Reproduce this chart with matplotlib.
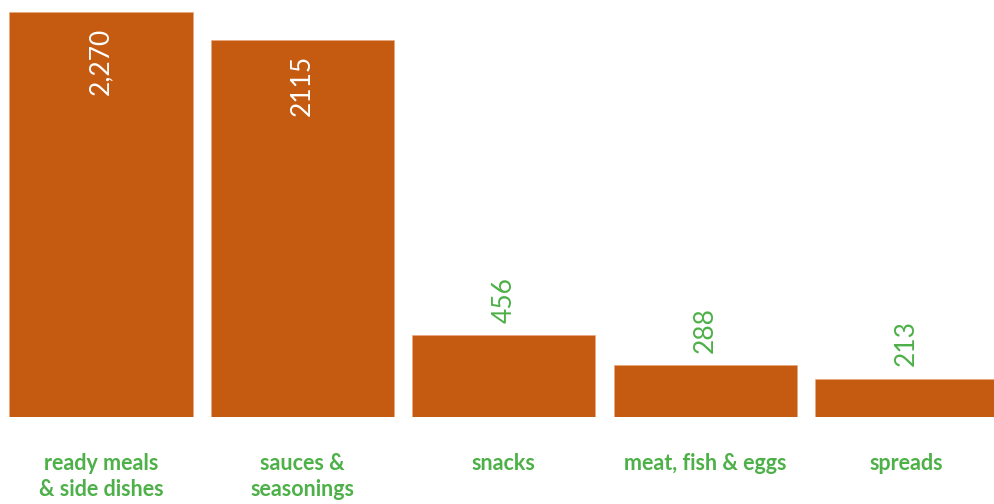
import matplotlib.pyplot as plt

categories = ['ready meals\n& side dishes', 'sauces &\nseasonings', 'snacks',
              'meat, fish & eggs', 'spreads']
values = [2270, 2115, 456, 288, 213]
value_labels = ['2,270', '2115', '456', '288', '213']
label_inside = [True, True, False, False, False]

bar_color = '#C55A11'
green = '#4DB048'

fig = plt.figure(figsize=(9.94, 5.04), dpi=100)
ax = fig.add_axes([0, 87.5 / 504, 1, 416.5 / 504])

x = range(len(categories))
bars = ax.bar(x, values, width=0.91, color=bar_color,
              edgecolor='#E9A57A', linewidth=0.4)

# valores verticais: dentro da barra (branco) ou acima (verde)
for b, txt, inside in zip(bars, value_labels, label_inside):
    cx = b.get_x() + b.get_width() / 2
    top = b.get_height()
    if inside:
        ax.annotate(txt, (cx, top), xytext=(0, -11), textcoords='offset points',
                    rotation=90, ha='center', va='top', color='white',
                    fontsize=19, family='Lato')
    else:
        ax.annotate(txt, (cx, top), xytext=(0, 9), textcoords='offset points',
                    rotation=90, ha='center', va='bottom', color=green,
                    fontsize=19, family='Lato')

ax.set_xlim(-101 / 201.4, (994 - 101) / 201.4)
ax.set_ylim(0, 416.5 / 0.1782)

ax.set_xticks(list(x))
ax.set_xticklabels(categories, color=green, fontsize=15.5, fontweight='bold',
                   family='Lato', linespacing=1.3)
ax.tick_params(axis='x', length=0, pad=26)
ax.set_yticks([])
for s in ax.spines.values():
    s.set_visible(False)

plt.savefig('out.png', dpi=100)
plt.close(fig)
